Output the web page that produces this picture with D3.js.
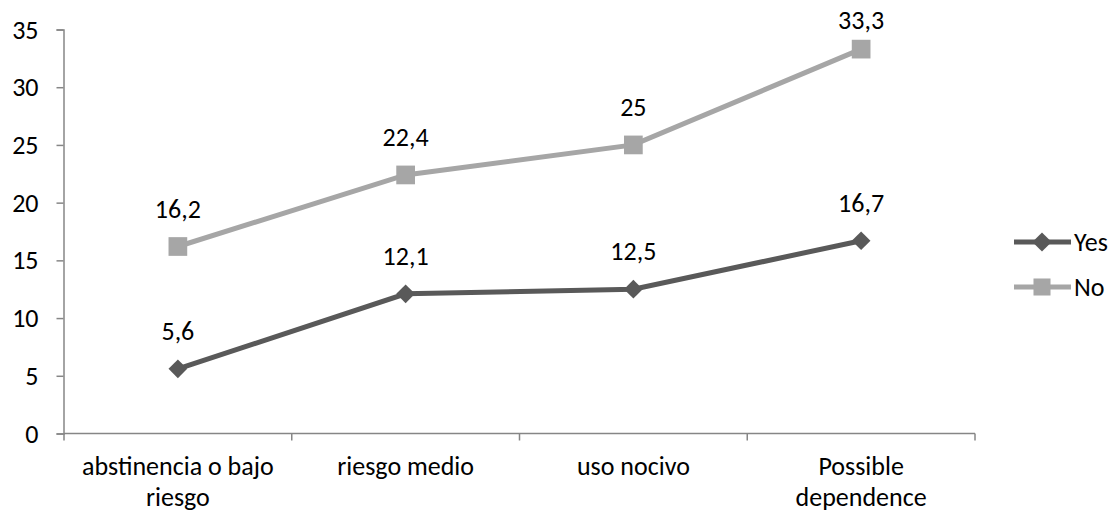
<!DOCTYPE html>
<html>
<head>
<meta charset="utf-8">
<script src="https://cdn.jsdelivr.net/npm/d3@7"></script>
<style>
  body { margin: 0; background: #fff; }
  svg text { font-family: Carlito, Calibri, "Open Sans", sans-serif; fill: #000; }
</style>
</head>
<body>
<div id="chart"></div>
<script>
const categories = [['abstinencia o bajo', 'riesgo'], ['riesgo medio'], ['uso nocivo'], ['Possible', 'dependence']];
const yesValues  = [5.6, 12.1, 12.5, 16.7];
const noValues   = [16.2, 22.4, 25, 33.3];
const yTicks     = [0, 5, 10, 15, 20, 25, 30, 35];

const width    = 1112;
const height   = 511;
const margin   = { top: 29.5, right: 137, bottom: 77.5, left: 64 };
const fontSize = '26px';

const svg = d3.select('#chart').append('svg')
    .attr('width', width)
    .attr('height', height);

const x = d3.scaleBand()
    .domain(d3.range(categories.length))
    .range([margin.left, width - margin.right]);

const y = d3.scaleLinear()
    .domain([0, 35])
    .range([height - margin.bottom, margin.top]);

const axisColor = '#868686';

// y axis
const yAxis = svg.append('g')
    .attr('transform', `translate(${margin.left - 0.5},0)`)
    .call(d3.axisLeft(y).tickValues(yTicks).tickSize(7).tickPadding(18).tickFormat(d3.format('d')));
yAxis.select('.domain').attr('stroke', axisColor).attr('stroke-width', 1.5);
yAxis.selectAll('.tick line').attr('stroke', axisColor).attr('stroke-width', 1.5);
yAxis.selectAll('.tick text').style('font-size', fontSize).attr('dy', '0.33em');

// x axis
const x0 = y(0);
svg.append('line')
    .attr('x1', margin.left).attr('x2', width - margin.right)
    .attr('y1', x0).attr('y2', x0)
    .attr('stroke', axisColor).attr('stroke-width', 1.5);

const bounds = d3.range(categories.length + 1).map(i => margin.left + i * x.bandwidth());
svg.selectAll('.xtick').data(bounds).enter().append('line')
    .attr('x1', d => d).attr('x2', d => d)
    .attr('y1', x0).attr('y2', x0 + 7)
    .attr('stroke', axisColor).attr('stroke-width', 1.5);

const catLabels = svg.selectAll('.cat').data(categories).enter().append('text')
    .attr('text-anchor', 'middle')
    .style('font-size', fontSize)
    .attr('transform', (d, i) => `translate(${x(i) + x.bandwidth() / 2},${x0 + 41})`);
catLabels.selectAll('tspan').data(d => d).enter().append('tspan')
    .attr('x', 0)
    .attr('dy', (d, i) => i === 0 ? 0 : 31.5)
    .text(d => d);

const series = [
    { name: 'Yes', values: yesValues, color: '#595959', rotate: 45, size: 175, legendSize: 185 },
    { name: 'No',  values: noValues,  color: '#a6a6a6', rotate: 0,  size: 350, legendSize: 290 }
];

const line = d3.line()
    .x((d, i) => x(i) + x.bandwidth() / 2)
    .y(d => y(d));

const fmt = v => String(v).replace('.', ',');

series.forEach(s => {
    const g = svg.append('g');
    g.append('path')
        .datum(s.values)
        .attr('fill', 'none')
        .attr('stroke', s.color)
        .attr('stroke-width', 5)
        .attr('d', line);

    g.selectAll('.marker').data(s.values).enter().append('path')
        .attr('d', d3.symbol().type(d3.symbolSquare).size(s.size))
        .attr('transform', (d, i) => `translate(${x(i) + x.bandwidth() / 2},${y(d)}) rotate(${s.rotate})`)
        .attr('fill', s.color);

    // labels sit above the point, kept inside the top of the chart
    g.selectAll('.lbl').data(s.values).enter().append('text')
        .attr('x', (d, i) => x(i) + x.bandwidth() / 2)
        .attr('y', d => Math.max(y(d) - 29, 28.5))
        .attr('text-anchor', 'middle')
        .style('font-size', fontSize)
        .text(fmt);
});

// legend
const legend = svg.selectAll('.legend').data(series).enter().append('g')
    .attr('transform', (d, i) => `translate(1014,${242 + i * 45})`);
legend.append('line')
    .attr('x1', 0).attr('x2', 57)
    .attr('stroke', d => d.color)
    .attr('stroke-width', 5);
legend.append('path')
    .attr('d', d => d3.symbol().type(d3.symbolSquare).size(d.legendSize)())
    .attr('transform', d => `translate(28,0) rotate(${d.rotate})`)
    .attr('fill', d => d.color);
legend.append('text')
    .attr('x', 60)
    .attr('y', 8.5)
    .style('font-size', fontSize)
    .text(d => d.name);
</script>
</body>
</html>
